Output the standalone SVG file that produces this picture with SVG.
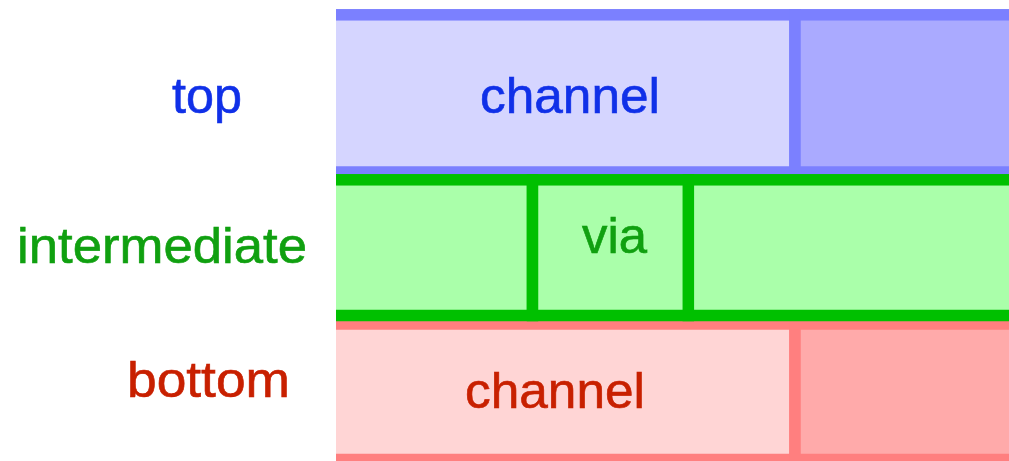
<svg xmlns="http://www.w3.org/2000/svg" width="1009" height="461" viewBox="0 0 1009 461">
  <defs>
    <clipPath id="stack">
      <rect x="336" y="0" width="673" height="461"/>
    </clipPath>
  </defs>
  <style>
    text { font-family: "Liberation Sans", Arial, sans-serif; font-size: 50px; text-anchor: middle; stroke-width: 0.6px; }
    .blue rect { stroke: #7b80ff; stroke-width: 11.5; }
    .green rect { stroke: #00c000; stroke-width: 11.5; fill: #aaffaa; }
    .red rect { stroke: #ff7f7f; stroke-width: 11.5; }
    .t-blue { fill: #1030e8; stroke: #1030e8; }
    .t-green { fill: #10a010; stroke: #10a010; }
    .t-red { fill: #c82000; stroke: #c82000; }
  </style>

  <!-- layer labels -->
  <g id="label-top"><text class="t-blue" x="207" y="113" textLength="70" lengthAdjust="spacingAndGlyphs">top</text></g>
  <g id="label-intermediate"><text class="t-green" x="162" y="263" textLength="290" lengthAdjust="spacingAndGlyphs">intermediate</text></g>
  <g id="label-bottom"><text class="t-red" x="208.5" y="397" textLength="163" lengthAdjust="spacingAndGlyphs">bottom</text></g>

  <g clip-path="url(#stack)">
    <!-- top layer -->
    <g id="top-channel" class="blue">
      <rect x="320" y="14.8" width="475" height="157.2" fill="#d5d5ff"/>
      <text class="t-blue" x="570" y="113" textLength="180" lengthAdjust="spacingAndGlyphs">channel</text>
    </g>
    <g id="top-right" class="blue">
      <rect x="795" y="14.8" width="300" height="157.2" fill="#aaaaff"/>
    </g>

    <!-- bottom layer -->
    <g id="bottom-channel" class="red">
      <rect x="320" y="324" width="475" height="135.5" fill="#ffd5d5"/>
      <text class="t-red" x="555" y="408" textLength="180" lengthAdjust="spacingAndGlyphs">channel</text>
    </g>
    <g id="bottom-right" class="red">
      <rect x="795" y="324" width="300" height="135.5" fill="#ffaaaa"/>
    </g>

    <!-- intermediate layer -->
    <g id="intermediate-left" class="green">
      <rect x="320" y="179.8" width="212.5" height="135.7"/>
    </g>
    <g id="intermediate-right" class="green">
      <rect x="688.3" y="179.8" width="400" height="135.7"/>
    </g>
    <g id="via" class="green">
      <rect x="532.5" y="179.8" width="155.8" height="135.7"/>
      <text class="t-green" x="614.5" y="253" textLength="65" lengthAdjust="spacingAndGlyphs">via</text>
    </g>
  </g>

  <!-- no connectors in this figure -->
  <g id="connectors"/>
</svg>
